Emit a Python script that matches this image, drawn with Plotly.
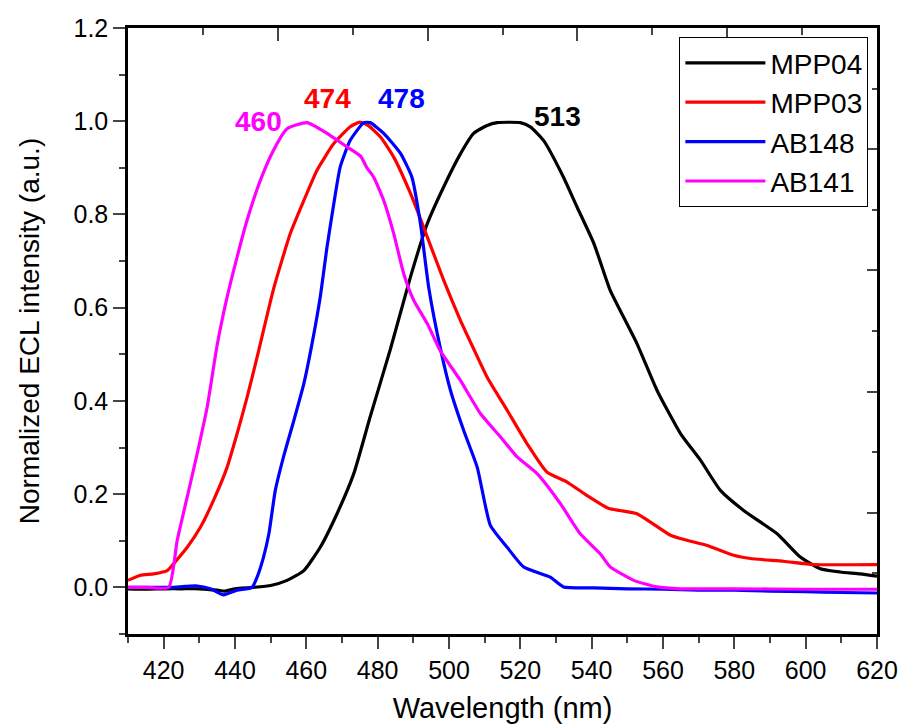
import plotly.graph_objects as go

# ---- data ----
mpp04_wl = [410, 415, 420, 425, 430, 435, 437, 440, 445, 450, 454.6, 459.3, 463.9, 468.6, 473.3,
            477.9, 483.6, 489.2, 493.9, 498.5, 503.2, 506.9, 510.7, 513.5, 520, 522.8, 526.5,
            532.1, 535.9, 540.6, 545.2, 548, 552.7, 558.3, 564.9, 570.5, 576.1, 582.6, 592,
            598.5, 604.1, 609.7, 615.3, 620]
mpp04_int = [-0.003, -0.004, -0.003, -0.003, -0.003, -0.006, -0.008, -0.003, 0.0, 0.004, 0.015,
             0.036, 0.086, 0.158, 0.244, 0.366, 0.512, 0.666, 0.78, 0.859, 0.93, 0.974, 0.991,
             0.997, 0.997, 0.988, 0.959, 0.88, 0.816, 0.738, 0.637, 0.594, 0.523, 0.423, 0.33,
             0.273, 0.208, 0.165, 0.115, 0.065, 0.04, 0.033, 0.029, 0.024]

mpp03_wl = [410, 413.5, 417.2, 421, 422.8, 426.6, 430.3, 434, 437.8, 440.6, 443.4, 446.2, 450.8,
            455.5, 459.3, 463, 467.7, 472.3, 475, 477.5, 480.8, 484.5, 489.2, 493.9, 498.5,
            503.2, 506.9, 510.7, 516.3, 521.9, 527.5, 533.1, 538.7, 544.8, 548, 552.7, 556.5,
            562.1, 566.7, 572.4, 579.8, 584.5, 593.8, 602.2, 620]
mpp03_int = [0.015, 0.026, 0.029, 0.036, 0.051, 0.086, 0.129, 0.187, 0.258, 0.33, 0.408, 0.494,
             0.64, 0.759, 0.83, 0.895, 0.952, 0.988, 0.998, 0.99, 0.966, 0.923, 0.845, 0.752,
             0.659, 0.573, 0.512, 0.451, 0.38, 0.308, 0.247, 0.226, 0.197, 0.169, 0.165, 0.158,
             0.14, 0.112, 0.101, 0.09, 0.069, 0.062, 0.056, 0.049, 0.049]

ab148_wl = [410, 415, 421.9, 426, 429.4, 433.1, 436.8, 440.6, 444.8, 446.2, 448, 449.5, 451.3,
            453.6, 456.5, 459.3, 461.6, 463.9, 465.8, 467.7, 469.5, 472.3, 476.1, 477.9, 481.7,
            486.4, 489.6, 492, 494.3, 497.6, 500.4, 504.1, 507.9, 511.6, 516.3, 520.9, 528.4,
            532.1, 540.6, 550, 560, 570, 580, 590, 600, 610, 620]
ab148_int = [0.0, 0.0, 0.0, 0.002, 0.003, -0.003, -0.016, -0.006, 0.0, 0.022, 0.065, 0.115, 0.208,
             0.28, 0.358, 0.437, 0.523, 0.623, 0.73, 0.823, 0.902, 0.959, 0.997, 0.997, 0.974,
             0.931, 0.88, 0.78, 0.644, 0.512, 0.423, 0.337, 0.258, 0.133, 0.086, 0.044, 0.022,
             0.001, -0.001, -0.003, -0.004, -0.006, -0.006, -0.008, -0.009, -0.011, -0.012]

ab141_wl = [410, 415, 421.4, 423.8, 426.6, 429.4, 432.2, 435, 437.8, 440.6, 443.4, 447.1, 450.8,
            454.6, 460.2, 465.8, 471.4, 475.2, 477, 478.9, 481.7, 484.5, 487.3, 490.1, 493.9,
            497.6, 503.2, 508.8, 514.4, 519.1, 524.7, 531.2, 536.8, 542.4, 545.2, 551.8, 558.3,
            564.9, 580, 600, 620]
ab141_int = [0.0, 0.0, 0.0, 0.101, 0.194, 0.287, 0.387, 0.52, 0.623, 0.709, 0.788, 0.873, 0.938,
             0.984, 0.997, 0.974, 0.945, 0.925, 0.9, 0.88, 0.83, 0.759, 0.673, 0.616, 0.566,
             0.507, 0.444, 0.373, 0.323, 0.28, 0.244, 0.18, 0.115, 0.072, 0.044, 0.015, 0.001,
             -0.003, -0.003, -0.004, -0.004]

series_names = ["MPP04", "MPP03", "AB148", "AB141"]
series_colors = ["#000000", "#ff0000", "#0000ff", "#ff00ff"]

peak_labels = ["513", "474", "478", "460"]
peak_x = [530.4, 465.9, 486.6, 446.6]
peak_y = [1.011, 1.049, 1.049, 1.0]

x_ticks = [420, 440, 460, 480, 500, 520, 540, 560, 580, 600, 620]

FONT = "Liberation Sans, Arial, sans-serif"

fig = go.Figure()
for name, color, xs, ys in zip(series_names, series_colors,
                               [mpp04_wl, mpp03_wl, ab148_wl, ab141_wl],
                               [mpp04_int, mpp03_int, ab148_int, ab141_int]):
    fig.add_trace(go.Scatter(x=xs, y=ys, mode="lines", name=name,
                             line=dict(color=color, width=3.2, shape="spline",
                                       smoothing=0.5)))

# empty helper trace to create the top/right frame axes
fig.add_trace(go.Scatter(x=[], y=[], xaxis="x2", yaxis="y2", showlegend=False,
                         hoverinfo="skip"))

for lab, px, py, c in zip(peak_labels, peak_x, peak_y, series_colors):
    fig.add_annotation(x=px, y=py, text="<b>%s</b>" % lab, showarrow=False,
                       font=dict(family=FONT, size=28, color=c),
                       xanchor="center", yanchor="middle")

fig.update_layout(
    width=901, height=724,
    margin=dict(l=128, r=24, t=28, b=90, autoexpand=False),
    paper_bgcolor="white", plot_bgcolor="white",
    font=dict(family=FONT, color="black"),
    showlegend=True,
    legend=dict(x=0.9885, y=0.985, xanchor="right", yanchor="top",
                bordercolor="black", borderwidth=1, bgcolor="white",
                font=dict(family=FONT, size=28, color="black"),
                itemwidth=80, tracegroupgap=0),
    xaxis=dict(range=[410, 620], tickvals=x_ticks, ticks="outside", ticklen=12,
               tickwidth=2, showline=True, linewidth=2.5, linecolor="black",
               showgrid=False, zeroline=False, automargin=False,
               minor=dict(dtick=10, tick0=410, ticks="outside", ticklen=6, tickwidth=2),
               tickfont=dict(family=FONT, size=25, color="black"),
               title=dict(text="Wavelength (nm)", font=dict(family=FONT, size=29),
                          standoff=18)),
    yaxis=dict(range=[-0.1, 1.2], dtick=0.2, tick0=0, tickformat=".1f", ticks="outside",
               ticklen=12, tickwidth=2, showline=True, linewidth=2.5, linecolor="black",
               showgrid=False, zeroline=False, automargin=False,
               minor=dict(dtick=0.1, ticks="outside", ticklen=6, tickwidth=2),
               tickfont=dict(family=FONT, size=25, color="black"),
               title=dict(text="Normalized ECL intensity (a.u.)",
                          font=dict(family=FONT, size=28), standoff=26)),
    xaxis2=dict(overlaying="x", side="top", range=[0, 10], dtick=2, tick0=0,
                ticks="inside", ticklen=13, tickwidth=2, showticklabels=False,
                showline=True, linewidth=2.5, linecolor="black", showgrid=False,
                zeroline=False, automargin=False,
                minor=dict(dtick=1, ticks="inside", ticklen=7, tickwidth=2)),
    yaxis2=dict(overlaying="y", side="right", range=[0, 10], dtick=2, tick0=0,
                ticks="inside", ticklen=10, tickwidth=2, showticklabels=False,
                showline=True, linewidth=2.5, linecolor="black", showgrid=False,
                zeroline=False, automargin=False,
                minor=dict(dtick=1, ticks="inside", ticklen=5, tickwidth=2)),
)

fig.write_html("out.html")
